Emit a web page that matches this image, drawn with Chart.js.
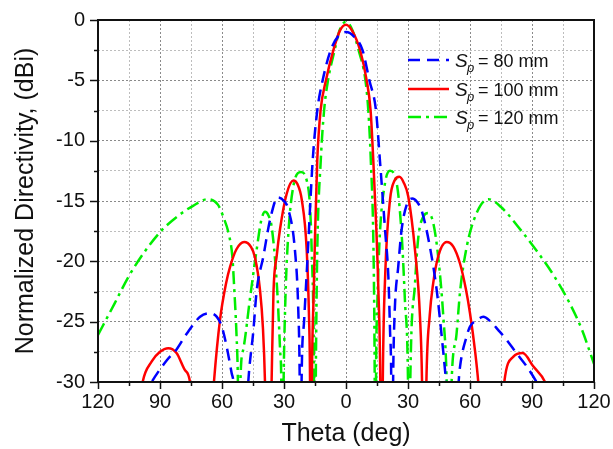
<!DOCTYPE html>
<html>
<head>
<meta charset="utf-8">
<script src="https://cdn.jsdelivr.net/npm/chart.js@4.4.1/dist/chart.umd.min.js"></script>
<style>
    html, body { margin: 0; padding: 0; background: #fff; }
    #wrap { width: 613px; height: 449px; }
</style>
</head>
<body>
<div id="wrap"><canvas id="patternChart" width="613" height="449"></canvas></div>
<script>
// --- Data ---
const seriesLabels = ['80 mm', '100 mm', '120 mm'];
const xTicks = [-120, -90, -60, -30, 0, 30, 60, 90, 120];
const yTicks = [0, -5, -10, -15, -20, -25, -30];

// Sp = 80 mm
const thetaBlue = [-120, -100, -94, -86.7, -82, -77.1, -70.6, -65.8, -62.5, -60.1, -57.7, -55.3, -54.5, -51, -47.3, -44.8, -43.2, -40, -36.8, -33, -30, -27.9, -24.7, -23.1, -22.4, -22, -21.5, -20.3, -18.7, -16.1, -13.9, -11.3, -7.4, -4, 0, 4, 8, 11.3, 14.5, 16.4, 18.9, 20.5, 21.3, 21.9, 22.3, 22.8, 23.5, 25.3, 26.9, 29.4, 32, 34.5, 36.6, 40.6, 43.9, 46.3, 47.9, 48.4, 51, 54.5, 55.2, 58.4, 60, 63.2, 66.4, 70, 73.7, 77.7, 82, 87.4, 92.2, 100, 120];
const dirBlue = [-40, -32, -30, -28.2, -27.3, -26, -24.6, -24.3, -24.6, -25.4, -27.1, -29.3, -30, -42, -30, -25.7, -22.4, -19.6, -16.6, -14.7, -15, -15.7, -19.1, -24, -30, -42, -30, -25, -20, -11.6, -7.5, -5, -2.5, -1.4, -1.0, -1.4, -2.5, -5, -7.5, -11.6, -17.4, -21.3, -25.7, -30, -42, -30, -24.5, -20.4, -17.4, -15.3, -14.8, -15.1, -15.8, -18.8, -22.4, -26.2, -29, -30, -42, -30, -28.7, -26.2, -25.4, -24.9, -24.6, -25, -25.7, -26.5, -27.5, -28.7, -30, -32.5, -40];

// Sp = 100 mm
const thetaRed = [-120, -100, -98.4, -94, -90, -86, -82, -78, -75.5, -70, -63.9, -61, -58, -56, -53, -49.3, -46, -44, -41.6, -40.2, -39.2, -37.6, -36, -35.1, -33.5, -31.9, -28.7, -25.5, -23.5, -21.4, -19, -17.9, -17.4, -17, -16.5, -15.7, -15, -13.9, -12.3, -9.7, -6.1, -3, 0, 3, 6.8, 10, 11.9, 13.2, 14.6, 15.6, 16.6, 17.2, 17.8, 19, 21.3, 23.5, 25.8, 28, 30.1, 33.4, 35.8, 36.8, 37.8, 38.9, 40.5, 42.2, 44.6, 48.7, 52, 55.2, 58, 60, 62.5, 64, 70, 76.6, 81, 85.5, 90.6, 96.3, 100, 120];
const dirRed = [-45, -32, -30, -28.3, -27.5, -27.2, -27.6, -29, -30, -45, -30, -24.9, -21.8, -20.4, -19, -18.4, -18.8, -19.7, -22.4, -25.5, -30, -45, -30, -22.6, -19.5, -17.3, -14.4, -13.3, -13.6, -14.9, -19.1, -24.6, -30, -45, -30, -23, -18, -11.6, -7.5, -5, -2.5, -0.9, -0.4, -0.9, -2.5, -5, -7.5, -11.6, -17, -22, -30, -45, -30, -21, -14.9, -13.3, -13.0, -13.5, -14.6, -19.1, -24.6, -30, -45, -30, -24.5, -21.8, -19.6, -18.4, -18.8, -20.2, -22.3, -24.3, -27.5, -30, -45, -30, -27.9, -27.6, -28.7, -30, -32, -45];

// Sp = 120 mm
const thetaGreen = [-120, -112, -105, -97, -89, -81, -74, -67, -62, -59.4, -56.5, -55, -54, -53, -52.3, -51.7, -51, -49.7, -46.4, -43.2, -41, -39.2, -37.5, -36, -33.5, -31.9, -31.3, -30.8, -30.2, -29.3, -27.9, -25.5, -21.8, -19, -17.4, -16.6, -15.6, -15.1, -14.5, -13.9, -12.2, -10.6, -8.7, -5.5, -3, 0, 3, 6.1, 9.4, 10.8, 12, 13.3, 13.8, 14.2, 14.6, 15.2, 16.4, 18.9, 21.3, 24.5, 26.9, 28.5, 30, 30.5, 31.1, 33.4, 35, 37.4, 39.8, 42.2, 44.6, 47.1, 48.7, 49.8, 51.1, 53.5, 55.2, 58.4, 63.2, 68.9, 75, 85, 93, 101, 108, 114, 120];
const dirGreen = [-26.1, -23.5, -21.2, -19.1, -17.4, -16.2, -15.4, -14.85, -15.3, -16.3, -17.9, -19.6, -22.5, -26, -30, -40, -29.5, -27.3, -23, -19, -16.6, -15.9, -16.2, -17.1, -21.8, -27.3, -30, -40, -30, -23, -17.7, -13.8, -12.6, -13.3, -15.5, -19.1, -27, -40, -27.3, -19.1, -11.6, -7.5, -5, -2.5, -0.8, -0.15, -0.8, -2.5, -5, -7.5, -11.6, -19, -27, -40, -28, -23.2, -17.7, -13.5, -12.5, -13.5, -17.7, -23.2, -30, -40, -30, -21.8, -18, -16.3, -16, -16.8, -19.6, -24.6, -29.8, -40, -30, -26, -22.5, -18.8, -16, -14.85, -15.5, -17.5, -19.3, -21.3, -23.4, -25.6, -28.5];

// --- Helpers ---
const FONT = 'Arial, "Liberation Sans", sans-serif';

function toPoints(xs, ys) {
    return xs.map((x, i) => ({ x: x, y: ys[i] }));
}

// frame, tick marks and the legend (the S_p legend needs a subscript)
const framePlugin = {
    id: 'frame',
    afterDraw(chart) {
        const { ctx, chartArea: a, scales } = chart;
        ctx.save();
        ctx.strokeStyle = '#111';
        ctx.lineWidth = 1.5;

        // x ticks
        for (let v = -120; v <= 120; v += 15) {
            const px = Math.round(scales.x.getPixelForValue(v)) + 0.5;
            const len = v % 30 === 0 ? 7 : 4;
            ctx.beginPath();
            ctx.moveTo(px, a.bottom);
            ctx.lineTo(px, a.bottom + len);
            ctx.stroke();
        }
        // y ticks
        for (let v = -30; v <= 0; v += 2.5) {
            const py = Math.round(scales.y.getPixelForValue(v)) + 0.5;
            const len = v % 5 === 0 ? 8 : 4;
            ctx.beginPath();
            ctx.moveTo(a.left, py);
            ctx.lineTo(a.left - len, py);
            ctx.stroke();
        }

        // box
        ctx.lineWidth = 2;
        ctx.strokeRect(a.left, a.top, a.right - a.left, a.bottom - a.top);

        // legend
        const rowY = [60, 89, 117];
        chart.data.datasets.forEach((ds, i) => {
            const y = rowY[i];
            ctx.save();
            ctx.strokeStyle = ds.borderColor;
            ctx.lineWidth = ds.borderWidth;
            ctx.setLineDash(ds.borderDash || []);
            ctx.beginPath();
            ctx.moveTo(408, y);
            ctx.lineTo(449, y);
            ctx.stroke();
            ctx.restore();

            ctx.fillStyle = '#111';
            ctx.textBaseline = 'alphabetic';
            ctx.textAlign = 'left';
            ctx.font = 'italic 19px ' + FONT;
            ctx.fillText('S', 455, y + 7);
            ctx.font = 'italic 13px ' + FONT;
            ctx.fillText('p', 467, y + 12);
            ctx.font = '18px ' + FONT;
            ctx.fillText('= ' + seriesLabels[i], 478, y + 7);
        });
        ctx.restore();
    }
};

const gridColor = (ctx) => (ctx.tick && ctx.tick.value % 30 === 0) ? '#8a8a8a' : '#bdbdbd';
const gridColorY = (ctx) => (ctx.tick && ctx.tick.value % 5 === 0) ? '#8a8a8a' : '#bdbdbd';

new Chart(document.getElementById('patternChart'), {
    type: 'line',
    data: {
        datasets: [
            {
                label: 'Sp = ' + seriesLabels[0],
                data: toPoints(thetaBlue, dirBlue),
                borderColor: '#0000ff',
                borderWidth: 2.5,
                borderDash: [12, 7]
            },
            {
                label: 'Sp = ' + seriesLabels[1],
                data: toPoints(thetaRed, dirRed),
                borderColor: '#ff0000',
                borderWidth: 2.5
            },
            {
                label: 'Sp = ' + seriesLabels[2],
                data: toPoints(thetaGreen, dirGreen),
                borderColor: '#00ee00',
                borderWidth: 2.5,
                borderDash: [13, 5, 3, 5]
            }
        ]
    },
    options: {
        responsive: false,
        animation: false,
        layout: { padding: { left: 0, right: 19, top: 20, bottom: 0 } },
        elements: {
            point: { radius: 0 },
            line: { cubicInterpolationMode: 'monotone', fill: false }
        },
        datasets: { line: { clip: 0 } },
        plugins: {
            legend: { display: false },
            tooltip: { enabled: false }
        },
        scales: {
            x: {
                type: 'linear',
                min: -120,
                max: 120,
                afterFit: s => {
                    s.height = 67;
                    s.paddingLeft = 0;
                    s.paddingRight = 0;
                },
                afterBuildTicks: s => {
                    s.ticks = [];
                    for (let v = -120; v <= 120; v += 15) s.ticks.push({ value: v });
                },
                ticks: {
                    autoSkip: false,
                    maxRotation: 0,
                    padding: 8,
                    color: '#111',
                    font: { family: FONT, size: 20 },
                    callback: v => (xTicks.includes(v) ? String(Math.abs(v)) : '')
                },
                grid: { color: gridColor, lineWidth: 1, drawTicks: false },
                border: { display: false, dash: [2, 2] },
                title: {
                    display: true,
                    text: 'Theta (deg)',
                    color: '#111',
                    font: { family: FONT, size: 25 },
                    padding: { top: 0, bottom: 0 }
                }
            },
            y: {
                type: 'linear',
                min: -30,
                max: 0,
                afterFit: s => {
                    s.width = 98;
                    s.paddingTop = 0;
                    s.paddingBottom = 0;
                },
                afterBuildTicks: s => {
                    s.ticks = [];
                    for (let v = -30; v <= 0; v += 2.5) s.ticks.push({ value: v });
                },
                ticks: {
                    autoSkip: false,
                    padding: 13,
                    color: '#111',
                    font: { family: FONT, size: 20 },
                    callback: v => (yTicks.includes(v) ? String(v) : '')
                },
                grid: { color: gridColorY, lineWidth: 1, drawTicks: false },
                border: { display: false, dash: [2, 2] },
                title: {
                    display: true,
                    text: 'Normalized Directivity, (dBi)',
                    color: '#111',
                    font: { family: FONT, size: 25 },
                    padding: { top: 11, bottom: 0 }
                }
            }
        }
    },
    plugins: [framePlugin]
});
</script>
</body>
</html>
